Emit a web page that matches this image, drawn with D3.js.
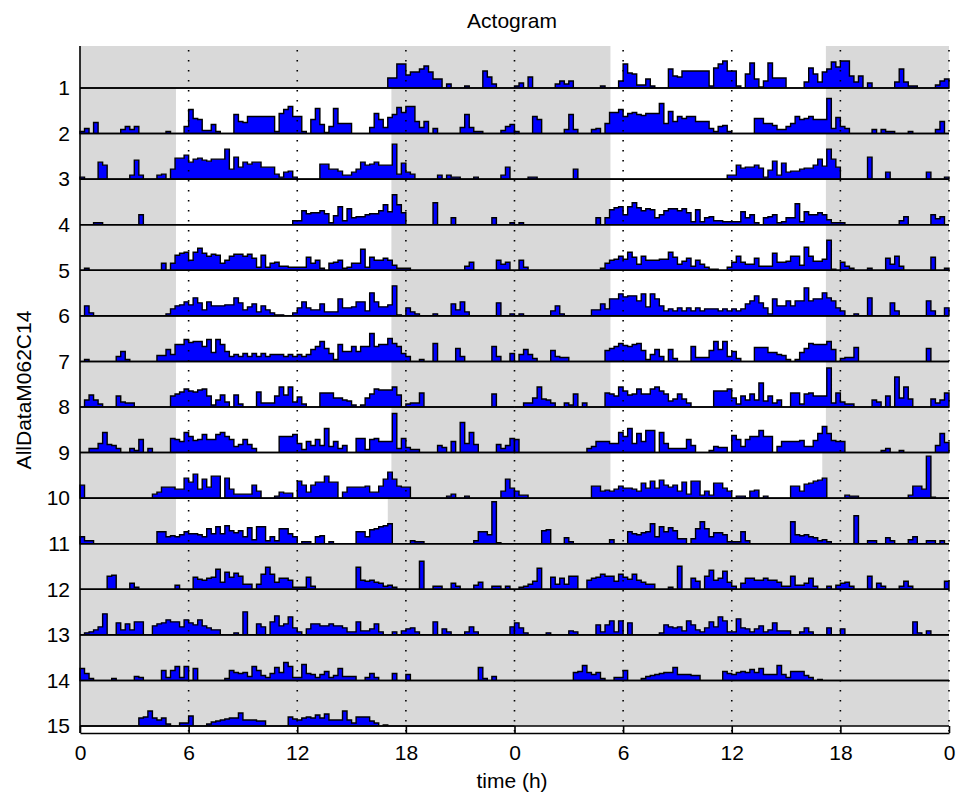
<!DOCTYPE html>
<html><head><meta charset="utf-8">
<script src="https://cdn.jsdelivr.net/npm/d3@7"></script>
<style>
body{margin:0;background:#fff}
svg{display:block}
text{font-family:"Liberation Sans",Arial,Helvetica,sans-serif;fill:#000}
</style>
</head><body>
<svg id="chart" width="956" height="797"></svg>
<script>
// ---------- data: activity counts per 15-min bin (96 bins / day) ----------
const day01 = [
0,0,0,0,0,0,0,0,0,0,0,0,0,0,0,0,0,0,0,0,0,0,0,0,
0,0,0,0,0,0,0,0,0,0,0,0,0,0,0,0,0,0,0,0,0,0,0,0,
0,0,0,0,0,0,0,0,0,0,0,0,0,0,0,0,0,0,0,0,10,10,24,24,
13,16,16,19,22,16,9,9,0,4,0,0,0,2,0,0,0,17,11,4,0,0,0,0];
const day02 = [
2,5,0,11,0,0,0,0,0,4,7,4,7,0,0,0,0,0,0,2,0,0,0,7,
24,15,14,3,3,9,2,0,0,0,19,12,11,17,17,17,17,17,17,2,20,24,27,17,
17,2,0,14,25,9,1,7,25,10,10,10,0,0,0,0,6,20,14,6,16,19,26,21,
27,27,12,6,12,0,5,0,0,0,0,0,6,19,6,2,2,0,0,0,0,3,7,9];
const day03 = [
2,0,0,0,17,14,0,0,0,0,0,4,19,4,0,0,0,4,5,0,10,21,21,24,
17,20,21,19,18,20,20,20,30,10,22,12,17,15,17,17,12,12,12,5,2,7,8,2,
0,0,0,0,0,15,15,10,10,8,4,4,7,10,17,14,15,17,14,14,14,35,5,16,
7,5,0,0,0,0,0,4,0,4,2,2,0,0,0,2,0,0,0,0,0,4,12,0];
const day04 = [
0,0,0,2,2,0,0,0,0,0,0,0,0,10,0,0,0,0,0,0,0,0,0,0,
0,0,0,0,0,0,0,0,0,0,0,0,0,0,0,0,0,0,0,0,0,0,0,4,
4,14,11,12,12,14,11,2,9,18,4,16,7,8,8,10,11,11,14,20,13,30,20,12,
0,0,0,0,0,0,22,0,0,0,7,0,0,0,0,0,0,0,0,7,0,0,0,2];
const day05 = [
0,2,0,0,0,0,0,0,0,0,0,0,0,0,0,0,0,0,7,0,7,15,17,18,
10,18,22,17,14,16,15,7,10,14,16,16,14,16,12,3,15,3,7,8,4,4,3,3,
3,3,13,7,10,2,0,7,8,10,2,3,7,7,21,3,13,10,10,12,10,5,2,2,
2,0,0,0,0,0,0,0,0,0,0,0,0,4,8,0,0,0,0,0,10,6,8,0];
const day06 = [
0,10,3,0,0,0,0,0,0,0,0,0,0,0,0,0,0,0,0,2,7,10,11,14,
11,18,13,6,14,10,10,10,11,11,18,13,6,9,12,4,10,6,3,1,1,0,0,3,
8,14,8,6,6,12,4,4,4,17,8,8,9,14,14,5,23,14,9,9,11,30,1,0,
8,4,2,0,0,0,2,0,0,0,12,6,14,4,0,0,0,0,0,0,13,0,0,2];
const day07 = [
0,2,0,0,0,0,0,0,5,10,2,0,0,0,0,0,0,6,6,12,7,17,17,22,
19,20,20,15,22,9,22,17,10,5,7,5,8,5,8,5,8,5,7,7,7,5,7,5,
7,5,7,12,15,20,13,8,2,17,10,10,15,10,15,15,28,15,17,17,23,18,15,8,
5,0,0,2,0,0,18,0,0,0,0,13,5,0,0,0,0,0,0,15,5,0,0,8];
const day08 = [
0,7,12,7,3,0,0,0,11,5,4,4,0,0,0,0,0,0,0,0,11,13,15,18,
16,15,17,18,11,2,7,12,5,0,12,3,0,0,0,15,4,4,4,11,20,12,20,5,
10,3,0,0,0,14,14,14,9,9,7,6,2,0,2,9,13,18,17,17,17,20,12,0,
3,4,4,14,0,0,0,0,0,0,0,0,0,0,0,0,0,0,0,13,0,0,0,0];
const day09 = [
0,0,4,4,9,20,8,7,4,0,0,4,2,13,0,4,0,0,0,0,14,13,11,20,
16,12,13,18,13,13,18,20,16,13,6,8,13,8,4,0,0,0,0,0,16,16,16,18,
9,3,11,7,13,7,24,6,11,4,7,0,0,14,14,3,13,14,11,11,11,39,4,14,
5,3,3,0,0,0,0,7,5,0,11,0,30,9,20,8,0,0,0,0,8,4,7,14];
const day10 = [
13,0,0,0,0,0,0,0,0,0,0,0,0,0,0,0,4,6,11,11,11,9,9,20,
16,24,9,19,11,22,22,0,20,9,4,4,4,4,13,7,0,0,0,2,6,5,5,0,
17,13,6,13,16,16,22,16,16,0,6,11,11,11,11,12,6,6,12,19,26,19,12,11,
11,0,0,0,0,0,0,0,0,2,4,0,0,2,0,0,0,0,0,0,0,7,19,10];
const day11 = [
7,3,3,0,0,0,0,0,0,0,0,0,0,0,0,0,0,12,12,7,8,7,9,12,
10,10,9,7,15,10,17,10,18,13,11,13,7,16,4,17,17,3,7,3,15,15,10,7,
0,2,2,0,7,8,0,2,0,0,0,0,0,12,12,7,14,15,17,18,20,0,0,0,
0,3,2,2,0,0,0,0,0,0,0,0,0,0,0,3,12,12,9,42,1,0,0,0];
const day12 = [
0,0,0,0,0,0,13,14,0,0,0,6,2,0,0,0,0,0,0,0,0,4,0,0,
0,12,10,9,11,12,20,7,17,12,16,13,5,5,0,5,15,22,15,7,11,11,9,2,
2,2,12,3,0,0,0,0,0,0,0,0,0,22,9,8,9,7,6,3,4,2,0,0,
0,0,0,28,0,0,3,3,0,0,6,3,0,0,0,4,7,0,0,3,3,0,3,0];
const day13 = [
0,2,3,5,8,21,0,0,12,5,11,5,13,13,0,0,9,11,12,15,13,13,8,15,
12,10,15,9,7,5,5,0,0,0,2,0,23,0,0,11,8,0,13,19,9,11,18,7,
3,0,6,11,11,9,9,11,9,9,7,3,3,13,4,4,6,11,3,0,0,3,0,4,
6,7,3,0,0,0,13,0,6,3,0,0,0,3,8,3,0,0,0,0,0,0,0,8];
const day14 = [
12,7,2,0,0,0,0,2,0,0,0,0,4,3,0,0,0,0,10,3,10,14,3,14,
0,12,0,0,0,0,0,0,2,10,8,7,8,4,14,10,5,3,7,13,8,18,14,3,
3,16,7,6,3,6,9,3,5,12,4,4,4,0,0,3,7,3,0,0,0,7,0,0,
6,0,0,0,0,0,0,0,0,0,0,0,0,0,0,0,13,2,0,4,0,0,0,0];
const day15 = [
0,0,0,0,0,0,0,0,0,0,0,0,0,8,9,15,8,6,8,2,0,0,3,3,
10,0,0,0,2,4,5,6,7,8,8,13,6,6,6,5,5,0,0,0,0,0,9,7,
6,8,9,8,11,8,12,6,6,6,15,6,3,9,9,9,5,3,0,1,0,0,0,0,
0,0,0,0,0,0,0,0,0,0,0,0,0,0,0,0,0,0,0,0,0,0,0,0];

// light phase per day (hours), null = dark all day  (days 1..16)
const lightOn  = [null,5.3,5.3,5.3,5.3,5.3,5.3,5.3,5.3,5.3,5.3,null,null,null,null,null];
const lightOff = [null,17.2,17.2,17.2,17.2,17.2,17.2,17.2,17.2,17.2,17.0,null,null,null,null,null];

const rowLabels   = ["1","2","3","4","5","6","7","8","9","10","11","12","13","14","15"];
const xTickValues = [0,6,12,18,24,30,36,42,48];
const xTickLabels = ["0","6","12","18","0","6","12","18","0"];
const gridHours   = [6,12,18,24,30,36,42,48];
const binHours = 0.25;

const days = [day01,day02,day03,day04,day05,day06,day07,day08,day09,day10,day11,day12,day13,day14,day15];

// ---------- layout ----------
const svg = d3.select("#chart");
const x = d3.scaleLinear().domain([0,48]).range([80,949]);
const rowBase = d3.scaleLinear().domain([1,15]).range([88,726]);
const plotTop = 46, axisY = 733;
const h = d3.scaleLinear().domain([0,45]).range([0,45]);
const rowTop = r => r === 1 ? plotTop : rowBase(r-1);
const FS = 21;

// title & labels
svg.append("text").attr("x",512).attr("y",28).attr("text-anchor","middle")
  .style("font-size",FS+"px").text("Actogram");
svg.append("text").attr("x",512).attr("y",788).attr("text-anchor","middle")
  .style("font-size",FS+"px").text("time (h)");
svg.append("text").attr("transform","translate(31,390) rotate(-90)")
  .attr("text-anchor","middle").style("font-size",FS+"px").text("AllDataM062C14");

// background: dark (grey) everywhere
svg.append("rect").attr("x",x(0)).attr("y",plotTop)
  .attr("width",x(48)-x(0)).attr("height",rowBase(15)-plotTop).attr("fill","#d9d9d9");

// rows: left half = day r, right half = day r+1
const halves = [];
for (let r = 1; r <= 15; r++) {
  halves.push({row:r, offset:0, dayIdx:r-1});
  halves.push({row:r, offset:24, dayIdx:r});
}

// light (white) periods
const lights = halves.filter(d => lightOn[d.dayIdx] != null);
svg.append("g").selectAll("rect").data(lights).join("rect")
  .attr("x", d => x(d.offset + lightOn[d.dayIdx]))
  .attr("width", d => x(d.offset + lightOff[d.dayIdx]) - x(d.offset + lightOn[d.dayIdx]))
  .attr("y", d => rowTop(d.row))
  .attr("height", d => rowBase(d.row) - rowTop(d.row))
  .attr("fill","#ffffff");

// histogram step areas (one per row half)
const series = halves.filter(hf => days[hf.dayIdx]).map(hf => {
  const data = days[hf.dayIdx];
  const pts = data.map((v,b) => ({t: hf.offset + b*binHours, v}));
  pts.push({t: hf.offset + data.length*binHours, v: data[data.length-1]});
  return {row: hf.row, pts};
});
svg.append("g").selectAll("path").data(series).join("path")
  .attr("d", s => d3.area().curve(d3.curveStepAfter)
      .x(p => x(p.t)).y0(rowBase(s.row)).y1(p => rowBase(s.row) - h(p.v))(s.pts))
  .attr("fill","#0000ff").attr("stroke","#000").attr("stroke-width",1.4)
  .attr("stroke-linejoin","miter");

// row baselines
svg.append("g").selectAll("line").data(d3.range(1,16)).join("line")
  .attr("x1",x(0)).attr("x2",x(48))
  .attr("y1",d => rowBase(d)).attr("y2",d => rowBase(d))
  .attr("stroke","#000").attr("stroke-width",1.6);

// dotted hour grid
svg.append("g").selectAll("line").data(gridHours).join("line")
  .attr("x1",d => x(d)).attr("x2",d => x(d))
  .attr("y1",plotTop+4).attr("y2",axisY)
  .attr("stroke","#000").attr("stroke-width",1.6).attr("stroke-dasharray","1.6,8.4");

// left axis line
svg.append("line").attr("x1",x(0)).attr("x2",x(0)).attr("y1",plotTop).attr("y2",axisY)
  .attr("stroke","#000").attr("stroke-width",1.6);

// row labels
const yAxis = d3.axisLeft(rowBase).tickValues(d3.range(1,16))
  .tickFormat((d,i) => rowLabels[i]).tickSize(0).tickPadding(10);
const gy = svg.append("g").attr("transform",`translate(${x(0)},0)`).call(yAxis);
gy.select(".domain").remove();
gy.selectAll("text").style("font-size",FS+"px").attr("font-family",null);

// bottom time axis
const xAxis = d3.axisBottom(x).tickValues(xTickValues)
  .tickFormat((d,i) => xTickLabels[i]).tickSizeInner(-7).tickSizeOuter(0).tickPadding(12);
const gx = svg.append("g").attr("transform",`translate(0,${axisY})`).call(xAxis);
gx.select(".domain").attr("stroke","#000").attr("stroke-width",1.6);
gx.selectAll(".tick line").attr("stroke","#000").attr("stroke-width",1.6);
gx.selectAll("text").style("font-size",FS+"px").attr("font-family",null);
</script>
</body></html>
